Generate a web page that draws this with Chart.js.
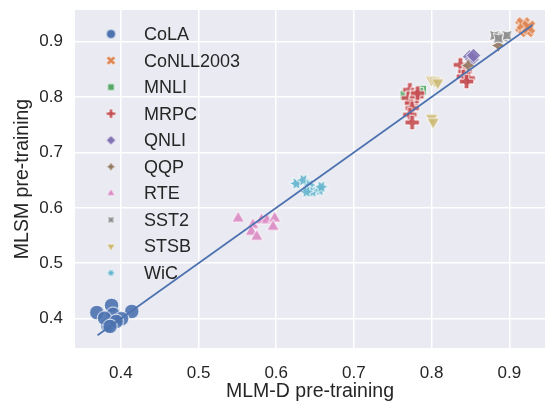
<!DOCTYPE html>
<html>
<head>
<meta charset="utf-8">
<script src="https://cdn.jsdelivr.net/npm/chart.js@4/dist/chart.umd.min.js"></script>
<style>
  html, body { margin: 0; padding: 0; background: #ffffff; }
  #wrap { width: 546px; height: 403px; }
</style>
</head>
<body>
<div id="wrap"><canvas id="chartCanvas" width="546" height="403"></canvas></div>
<script>
// task names, in legend order
const TASKS = ['CoLA', 'CoNLL2003', 'MNLI', 'MRPC', 'QNLI', 'QQP', 'RTE', 'SST2', 'STSB', 'WiC'];

// MLM-D score (x) vs MLSM score (y), one pair of arrays per task
const COLA_X = [0.369, 0.388, 0.414, 0.383, 0.390, 0.401, 0.379, 0.394, 0.386];
const COLA_Y = [0.411, 0.424, 0.413, 0.388, 0.408, 0.400, 0.401, 0.395, 0.386];
const CONLL_X = [0.916, 0.920, 0.923, 0.918, 0.925];
const CONLL_Y = [0.928, 0.924, 0.920, 0.932, 0.926];
const MNLI_X = [0.787, 0.783, 0.766];
const MNLI_Y = [0.812, 0.808, 0.803];
const MRPC_X = [0.772, 0.776, 0.778, 0.770, 0.774, 0.775, 0.781, 0.782, 0.772, 0.775, 0.837, 0.843, 0.841, 0.847, 0.845];
const MRPC_Y = [0.813, 0.804, 0.798, 0.798, 0.789, 0.780, 0.801, 0.807, 0.768, 0.754, 0.858, 0.846, 0.837, 0.834, 0.828];
const QNLI_X = [0.849, 0.852, 0.854];
const QNLI_Y = [0.873, 0.868, 0.875];
const QQP_X = [0.847, 0.886];
const QQP_Y = [0.857, 0.893];
const RTE_X = [0.551, 0.570, 0.568, 0.575, 0.581, 0.588, 0.598, 0.596];
const RTE_Y = [0.581, 0.569, 0.557, 0.548, 0.578, 0.578, 0.581, 0.566];
const SST2_X = [0.881, 0.892, 0.897, 0.886];
const SST2_Y = [0.911, 0.908, 0.911, 0.906];
const STSB_X = [0.800, 0.804, 0.808, 0.800, 0.802];
const STSB_Y = [0.831, 0.829, 0.826, 0.762, 0.755];
const WIC_X = [0.626, 0.635, 0.643, 0.647, 0.656, 0.658, 0.639];
const WIC_Y = [0.644, 0.650, 0.641, 0.629, 0.632, 0.638, 0.629];

// identity reference line
const LINE_X = [0.37, 0.93];
const LINE_Y = [0.37, 0.93];

const TICKS = [0.4, 0.5, 0.6, 0.7, 0.8, 0.9];

const SERIES_X = [COLA_X, CONLL_X, MNLI_X, MRPC_X, QNLI_X, QQP_X, RTE_X, SST2_X, STSB_X, WIC_X];
const SERIES_Y = [COLA_Y, CONLL_Y, MNLI_Y, MRPC_Y, QNLI_Y, QQP_Y, RTE_Y, SST2_Y, STSB_Y, WIC_Y];

const COLORS = ['#4C72B0', '#DD8452', '#55A868', '#C44E52', '#8172B3', '#937860', '#DA8BC3', '#8C8C8C', '#CCB974', '#64B5CD'];
// seaborn default marker cycle
const SHAPES = ['circle', 'xfill', 'square', 'plus', 'diamond', 'star4', 'triup', 'star4r', 'tridown', 'star6'];

const TEXT = '#262626';
const FONT = "'Liberation Sans', Arial, sans-serif";

function polyPoints(n, rotDeg, r, inner) {
  const pts = [];
  const rot = rotDeg * Math.PI / 180;
  const count = inner ? n * 2 : n;
  for (let k = 0; k < count; k++) {
    const a = Math.PI / 2 + rot + (2 * Math.PI * k) / count;
    const rr = inner && k % 2 === 1 ? r * inner : r;
    pts.push([rr * Math.cos(a), -rr * Math.sin(a)]);
  }
  return pts;
}

function scaled(list, f) {
  return list.map(function(p) { return [p[0] * f, -p[1] * f]; });
}

function shapePoints(shape, r) {
  switch (shape) {
    case 'xfill':
      return scaled([[-1,-2],[0,-1],[1,-2],[2,-1],[1,0],[2,1],[1,2],[0,1],[-1,2],[-2,1],[-1,0],[-2,-1]], 2 * r / 4);
    case 'plus':
      return scaled([[-1,-3],[-1,-1],[-3,-1],[-3,1],[-1,1],[-1,3],[1,3],[1,1],[3,1],[3,-1],[1,-1],[1,-3]], 2 * r / 6);
    case 'square': return polyPoints(4, 45, r, 0);
    case 'diamond': return polyPoints(4, 0, r, 0);
    case 'star4': return polyPoints(4, 0, r, 0.5);
    case 'star4r': return polyPoints(4, 45, r, 0.5);
    case 'triup': return polyPoints(3, 0, r, 0);
    case 'tridown': return polyPoints(3, 180, r, 0);
    case 'star6': return polyPoints(6, 30, r, 0.5);
  }
  return null;
}

function makeMarker(shape, color, r, edge, alpha) {
  const size = Math.ceil(2 * r + 2 * edge + 2);
  const c = document.createElement('canvas');
  c.width = size;
  c.height = size;
  const g = c.getContext('2d');
  g.globalAlpha = alpha;
  g.translate(size / 2, size / 2);
  g.beginPath();
  if (shape === 'circle') {
    g.arc(0, 0, r, 0, Math.PI * 2);
  } else {
    const pts = shapePoints(shape, r);
    g.moveTo(pts[0][0], pts[0][1]);
    for (let i = 1; i < pts.length; i++) g.lineTo(pts[i][0], pts[i][1]);
    g.closePath();
  }
  g.fillStyle = color;
  g.fill();
  if (edge > 0) {
    g.lineWidth = edge;
    g.strokeStyle = '#ffffff';
    g.lineJoin = 'miter';
    g.stroke();
  }
  return c;
}

const datasets = [];
datasets.push({
  type: 'line',
  label: 'fit',
  data: LINE_X.map(function(x, i) { return { x: x, y: LINE_Y[i] }; }),
  borderColor: '#4C72B0',
  borderWidth: 1.7,
  pointRadius: 0,
  fill: false,
  order: 0
});

// later tasks sit on top of earlier ones, like matplotlib draws them
TASKS.forEach(function(name, i) {
  const marker = makeMarker(SHAPES[i], COLORS[i], 7.3, 1, 0.9);
  datasets.push({
    type: 'scatter',
    label: name,
    data: SERIES_X[i].map(function(x, k) { return { x: x, y: SERIES_Y[i][k] }; }),
    pointStyle: marker,
    pointRadius: 7,
    pointHoverRadius: 7,
    order: TASKS.length - i
  });
});

const bgPlugin = {
  id: 'darkgridBg',
  beforeDraw: function(chart) {
    const a = chart.chartArea;
    const c = chart.ctx;
    c.save();
    c.fillStyle = '#EAEAF2';
    c.fillRect(a.left, a.top, a.right - a.left, a.bottom - a.top);
    c.restore();
  }
};

const legendPlugin = {
  id: 'innerLegend',
  afterDraw: function(chart) {
    const c = chart.ctx;
    c.save();
    c.font = '18px ' + FONT;
    c.fillStyle = TEXT;
    c.textBaseline = 'middle';
    c.textAlign = 'left';
    TASKS.forEach(function(name, i) {
      const y = 34 + i * 26.55;
      const m = makeMarker(SHAPES[i], COLORS[i], 4.6, 0.6, 1);
      c.drawImage(m, 111 - m.width / 2, y - m.height / 2);
      c.fillText(name, 144, y + 1);
    });
    c.restore();
  }
};

const tickFmt = function(v) { return Number(v).toFixed(1); };

function noPad(s) {
  s.paddingTop = 0;
  s.paddingBottom = 0;
  s.paddingLeft = 0;
  s.paddingRight = 0;
}

new Chart(document.getElementById('chartCanvas').getContext('2d'), {
  type: 'scatter',
  data: { datasets: datasets },
  plugins: [bgPlugin, legendPlugin],
  options: {
    responsive: false,
    animation: false,
    devicePixelRatio: 1,
    layout: { autoPadding: false, padding: { top: 10, right: 1, bottom: 0, left: 0 } },
    plugins: {
      legend: { display: false },
      tooltip: { enabled: false }
    },
    scales: {
      x: {
        type: 'linear',
        min: 0.341,
        max: 0.946,
        afterFit: function(s) { s.height = 55; noPad(s); },
        afterBuildTicks: function(s) { s.ticks = TICKS.map(function(v) { return { value: v }; }); },
        grid: { color: '#ffffff', lineWidth: 1.5, drawTicks: false },
        border: { display: false },
        ticks: { padding: 15, color: TEXT, font: { family: FONT, size: 17 }, callback: tickFmt, maxRotation: 0 },
        title: { display: true, text: 'MLM-D pre-training', color: TEXT, font: { family: FONT, size: 19.5, lineHeight: 1.2 }, padding: { top: 0, bottom: 0 } }
      },
      y: {
        type: 'linear',
        min: 0.347,
        max: 0.957,
        afterFit: function(s) { s.width = 75; noPad(s); },
        afterBuildTicks: function(s) { s.ticks = TICKS.map(function(v) { return { value: v }; }); },
        grid: { color: '#ffffff', lineWidth: 1.5, drawTicks: false },
        border: { display: false },
        ticks: { padding: 12, color: TEXT, font: { family: FONT, size: 17 }, callback: tickFmt },
        title: { display: true, text: 'MLSM pre-training', color: TEXT, font: { family: FONT, size: 19.5, lineHeight: 1.2 }, padding: { top: 11, bottom: 0 } }
      }
    }
  }
});
</script>
</body>
</html>
